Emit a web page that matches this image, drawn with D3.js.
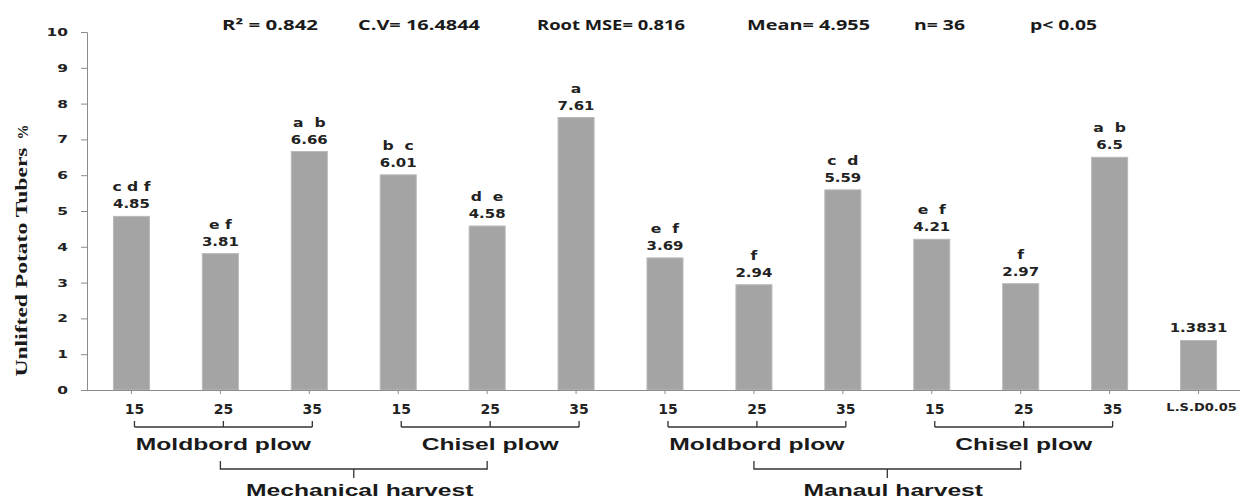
<!DOCTYPE html>
<html>
<head>
<meta charset="utf-8">
<script src="https://cdn.jsdelivr.net/npm/d3@7"></script>
<style>
  body { margin: 0; background: #fff; }
  svg { display: block; }
  .num { font-family: "DejaVu Sans", Verdana, sans-serif; font-weight: bold; fill: #222; }
  .grp { font-family: "Liberation Sans", Arial, sans-serif; font-weight: bold; fill: #1a1a1a; }
</style>
</head>
<body>
<div id="chart"></div>
<script>
// chart values
const categories = ["15", "25", "35", "15", "25", "35", "15", "25", "35", "15", "25", "35", "L.S.D0.05"];
const values = [4.85, 3.81, 6.66, 6.01, 4.58, 7.61, 3.69, 2.94, 5.59, 4.21, 2.97, 6.5, 1.3831];
const valueLabels = ["4.85", "3.81", "6.66", "6.01", "4.58", "7.61", "3.69", "2.94", "5.59", "4.21", "2.97", "6.5", "1.3831"];
const letters = ["c d f", "e f", "a  b", "b  c", "d  e", "a", "e  f", "f", "c  d", "e  f", "f", "a  b", ""];
const yTicks = [0, 1, 2, 3, 4, 5, 6, 7, 8, 9, 10];
const plowGroups = ["Moldbord plow", "Chisel plow", "Moldbord plow", "Chisel plow"];
const plowMembers = [[0, 1, 2], [3, 4, 5], [6, 7, 8], [9, 10, 11]];
const harvests = ["Mechanical harvest", "Manaul harvest"];
const harvestMembers = [[0, 1], [2, 3]];
const stats = ["R\u00b2 = 0.842", "C.V= 16.4844", "Root MSE= 0.816", "Mean= 4.955", "n= 36", "p< 0.05"];

// layout
const W = 1240, H = 500;
const statX = [222, 358, 537, 747, 914, 1030];
const statW = [96, 122, 148, 123, 51, 67];

// the source picture is wider than tall, widen glyphs to match
function stretch(sel, k) {
    sel.each(function() {
        const w = this.getComputedTextLength();
        if (w > 0) d3.select(this).attr("textLength", w * k).attr("lengthAdjust", "spacingAndGlyphs");
    });
}

const svg = d3.select("#chart").append("svg")
    .attr("width", W).attr("height", H);

const ids = categories.map((c, i) => i);
const x = d3.scaleBand().domain(ids).range([87, 1243]).paddingInner(0.595).paddingOuter(0.2975);
const y = d3.scaleLinear().domain([0, 10]).range([390, 32]);
const cx = i => x(i) + x.bandwidth() / 2;
const lx = i => cx(i) + 3;   // labels and brackets sit a little right of the ticks

// stats line
svg.selectAll(".stat").data(stats).enter().append("text")
    .attr("x", (d, i) => statX[i]).attr("y", 30)
    .attr("textLength", (d, i) => statW[i])
    .attr("lengthAdjust", "spacingAndGlyphs")
    .style("font-family", "'Open Sans', sans-serif")
    .style("font-weight", "bold").style("font-size", "14px").style("fill", "#1a1a1a")
    .text(d => d);

// y axis
const yAxis = svg.append("g")
    .attr("transform", "translate(87,0)")
    .call(d3.axisLeft(y).tickValues(yTicks).tickSize(6).tickPadding(13));
yAxis.selectAll("path,line").attr("stroke", "#8c8c8c");
yAxis.selectAll("text").attr("class", "num").style("font-size", "11px")
    .call(stretch, 1.4);

// y title
svg.append("text")
    .attr("transform", "translate(27,262) rotate(-90)")
    .attr("text-anchor", "middle")
    .attr("textLength", 229).attr("lengthAdjust", "spacingAndGlyphs")
    .style("font-family", "'Liberation Serif', 'Times New Roman', serif")
    .style("font-weight", "bold").style("font-size", "17px").style("fill", "#1a1a1a")
    .text("Unlifted Potato Tubers");
svg.append("text")
    .attr("transform", "translate(28,132) rotate(-90)")
    .attr("text-anchor", "middle")
    .style("font-family", "'Liberation Serif', 'Times New Roman', serif")
    .style("font-weight", "bold").style("font-size", "15px").style("fill", "#1a1a1a")
    .text("%");

// bars
svg.selectAll(".bar").data(values).enter().append("rect")
    .attr("x", (d, i) => x(i))
    .attr("y", d => y(d))
    .attr("width", x.bandwidth())
    .attr("height", d => y(0) - y(d))
    .attr("fill", "#a4a4a4")
    .attr("stroke", "#b9b9b9").attr("stroke-width", 1);

// value labels
svg.selectAll(".val").data(values).enter().append("text")
    .attr("class", "num")
    .attr("x", (d, i) => cx(i)).attr("y", d => y(d) - 8)
    .attr("text-anchor", "middle").style("font-size", "13px")
    .text((d, i) => valueLabels[i])
    .call(stretch, 1.15);
svg.selectAll(".let").data(values).enter().append("text")
    .attr("class", "num")
    .attr("x", (d, i) => cx(i)).attr("y", d => y(d) - 25)
    .attr("text-anchor", "middle").style("font-size", "12px")
    .style("white-space", "pre").attr("xml:space", "preserve")
    .text((d, i) => letters[i])
    .call(stretch, 1.3);

// x axis
const xAxis = svg.append("g")
    .attr("transform", "translate(0,390)")
    .call(d3.axisBottom(x).tickSize(4).tickPadding(10).tickFormat(i => categories[i]));
xAxis.select(".domain").attr("d", "M87,0.5H1240").attr("stroke", "#8c8c8c");
xAxis.selectAll("line").attr("stroke", "#8c8c8c");
xAxis.selectAll("text").attr("class", "num").attr("dx", 3)
    .style("font-size", (d, i) => i === 12 ? "10px" : "14px");
xAxis.selectAll("text").filter((d, i) => i === 12).call(stretch, 1.3);

// plow brackets
const br = svg.append("g").attr("stroke", "#333").attr("stroke-width", 1.3).attr("fill", "none");
plowMembers.forEach(m => {
    br.append("path").attr("d", "M" + lx(m[0]) + ",427H" + lx(m[m.length - 1]));
    m.forEach(i => br.append("path").attr("d", "M" + lx(i) + ",421V427"));
});
svg.selectAll(".plow").data(plowGroups).enter().append("text")
    .attr("class", "grp")
    .attr("x", (d, i) => lx(plowMembers[i][1])).attr("y", 450)
    .attr("text-anchor", "middle").style("font-size", "17px")
    .text(d => d)
    .call(stretch, 1.45);

// harvest brackets
harvestMembers.forEach((g, k) => {
    const x0 = lx(plowMembers[g[0]][1]) - 3;
    const x1 = lx(plowMembers[g[1]][1]) - 3;
    const xm = (x0 + x1) / 2;
    br.append("path").attr("d", "M" + x0 + ",461V469H" + x1 + "V461");
    br.append("path").attr("d", "M" + xm + ",469V478");
    svg.append("text").attr("class", "grp")
        .attr("x", xm + 6).attr("y", 496)
        .attr("text-anchor", "middle").style("font-size", "17px")
        .text(harvests[k])
        .call(stretch, 1.45);
});
</script>
</body>
</html>
